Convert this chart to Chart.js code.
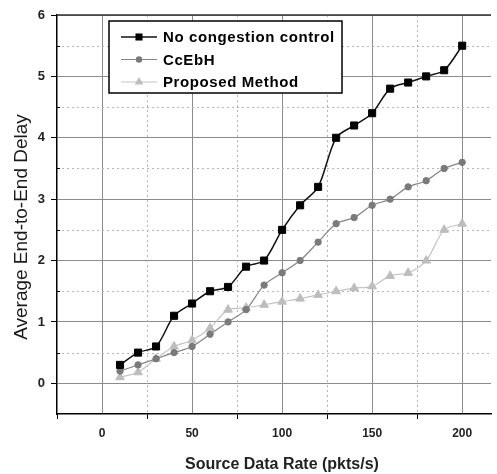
<!DOCTYPE html>
<html lang="en">
<head>
    <meta charset="UTF-8">
    <title>Average End-to-End Delay</title>
    <script src="https://cdn.jsdelivr.net/npm/chart.js"></script>
    <style>
        body { margin: 0; background: #fff; }
        canvas { display: block; }
    </style>
</head>
<body>

    <canvas id="chart" width="497" height="474"></canvas>

    <script>
        // Valores
        const rates = [10, 20, 30, 40, 50, 60, 70, 80, 90, 100, 110, 120, 130, 140, 150, 160, 170, 180, 190, 200];
        const noControl = [0.3, 0.5, 0.6, 1.1, 1.3, 1.5, 1.57, 1.9, 2.0, 2.5, 2.9, 3.2, 4.0, 4.2, 4.4, 4.8, 4.9, 5.0, 5.1, 5.5];
        const ccebh = [0.2, 0.3, 0.4, 0.5, 0.6, 0.8, 1.0, 1.2, 1.6, 1.8, 2.0, 2.3, 2.6, 2.7, 2.9, 3.0, 3.2, 3.3, 3.5, 3.6];
        const proposed = [0.1, 0.18, 0.4, 0.6, 0.7, 0.9, 1.2, 1.23, 1.28, 1.33, 1.38, 1.44, 1.5, 1.55, 1.58, 1.75, 1.8, 2.0, 2.5, 2.6];
        const seriesNames = ['No congestion control', 'CcEbH', 'Proposed Method'];
        const xTitle = 'Source Data Rate (pkts/s)';
        const yTitle = 'Average End-to-End Delay';
        const xTickValues = [-25, 0, 25, 50, 75, 100, 125, 150, 175, 200];
        const yTickValues = [-0.5, 0, 0.5, 1, 1.5, 2, 2.5, 3, 3.5, 4, 4.5, 5, 5.5, 6];

        const majorGrid = '#8c8c8c';
        const minorGrid = '#b4b4b4';
        const fontFamily = '"Liberation Sans", Arial, sans-serif';

        function pts(values) {
            return rates.map((r, i) => ({ x: r, y: values[i] }));
        }

        // grade secundaria pontilhada, borda superior, titulos e legenda
        const extras = {
            id: 'extras',
            beforeDatasetsDraw(chart) {
                const { ctx, chartArea: a, scales: { x, y } } = chart;
                ctx.save();
                ctx.strokeStyle = minorGrid;
                ctx.lineWidth = 1;
                ctx.setLineDash([2, 3]);
                xTickValues.forEach(v => {
                    if (v % 50 === 0 || v <= x.min) return;
                    const px = Math.round(x.getPixelForValue(v)) + 0.5;
                    ctx.beginPath();
                    ctx.moveTo(px, a.top);
                    ctx.lineTo(px, a.bottom);
                    ctx.stroke();
                });
                yTickValues.forEach(v => {
                    if (Number.isInteger(v) || v <= y.min) return;
                    const py = Math.round(y.getPixelForValue(v)) + 0.5;
                    ctx.beginPath();
                    ctx.moveTo(a.left, py);
                    ctx.lineTo(a.right, py);
                    ctx.stroke();
                });
                ctx.setLineDash([]);
                // pequenos ticks internos no eixo y
                ctx.strokeStyle = '#000';
                yTickValues.forEach(v => {
                    if (Number.isInteger(v) || v <= y.min) return;
                    const py = Math.round(y.getPixelForValue(v)) + 0.5;
                    ctx.beginPath();
                    ctx.moveTo(a.left, py);
                    ctx.lineTo(a.left + 3, py);
                    ctx.stroke();
                });
                ctx.restore();
            },
            afterDraw(chart) {
                const { ctx, chartArea: a } = chart;
                ctx.save();
                ctx.strokeStyle = '#333';
                ctx.lineWidth = 1.5;
                ctx.beginPath();
                ctx.moveTo(a.left, a.top);
                ctx.lineTo(a.right, a.top);
                ctx.stroke();

                // titulos dos eixos
                ctx.fillStyle = '#222';
                ctx.textAlign = 'center';
                ctx.textBaseline = 'middle';
                ctx.font = 'bold 16px ' + fontFamily;
                ctx.fillText(xTitle, a.left + 225, a.bottom + 51);
                ctx.save();
                ctx.translate(22, a.top + 212);
                ctx.rotate(-Math.PI / 2);
                ctx.font = '19px ' + fontFamily;
                ctx.fillStyle = '#1a1a1a';
                ctx.fillText(yTitle, 0, 0);
                ctx.restore();

                // legenda
                const bx = a.left + 52, by = a.top + 6, bw = 233, bh = 72;
                ctx.fillStyle = '#fff';
                ctx.fillRect(bx, by, bw, bh);
                ctx.strokeStyle = '#000';
                ctx.lineWidth = 1.5;
                ctx.strokeRect(bx, by, bw, bh);

                ctx.font = 'bold 15px ' + fontFamily;
                ctx.letterSpacing = '0.6px';
                ctx.textAlign = 'left';
                ctx.textBaseline = 'middle';
                chart.data.datasets.forEach((ds, i) => {
                    const ly = by + 16 + i * 22.5;
                    const x0 = bx + 12, x1 = bx + 48, mx = (x0 + x1) / 2;
                    ctx.strokeStyle = ds.borderColor;
                    ctx.lineWidth = ds.borderWidth;
                    ctx.beginPath();
                    ctx.moveTo(x0, ly);
                    ctx.lineTo(x1, ly);
                    ctx.stroke();
                    ctx.fillStyle = ds.pointBackgroundColor;
                    const r = ds.pointRadius;
                    ctx.beginPath();
                    if (ds.pointStyle === 'rect') {
                        const s = r * Math.SQRT1_2;
                        ctx.rect(mx - s, ly - s, 2 * s, 2 * s);
                    } else if (ds.pointStyle === 'triangle') {
                        ctx.moveTo(mx, ly - r);
                        ctx.lineTo(mx + r * 0.866, ly + r * 0.5);
                        ctx.lineTo(mx - r * 0.866, ly + r * 0.5);
                        ctx.closePath();
                    } else {
                        ctx.arc(mx, ly, r, 0, Math.PI * 2);
                    }
                    ctx.fill();
                    ctx.fillStyle = '#000';
                    ctx.fillText(ds.label, bx + 54, ly + 1);
                });
                ctx.restore();
            }
        };

        new Chart(document.getElementById('chart'), {
            type: 'line',
            data: {
                datasets: [
                    {
                        label: seriesNames[0],
                        data: pts(noControl),
                        borderColor: '#111',
                        borderWidth: 1.5,
                        pointStyle: 'rect',
                        pointRadius: 5,
                        pointBackgroundColor: '#000',
                        pointBorderColor: '#000',
                        pointBorderWidth: 1,
                        tension: 0.3
                    },
                    {
                        label: seriesNames[1],
                        data: pts(ccebh),
                        borderColor: '#858585',
                        borderWidth: 1.2,
                        pointStyle: 'circle',
                        pointRadius: 3.2,
                        pointBackgroundColor: '#7a7a7a',
                        pointBorderColor: '#7a7a7a',
                        pointBorderWidth: 1,
                        tension: 0.3
                    },
                    {
                        label: seriesNames[2],
                        data: pts(proposed),
                        borderColor: '#c4c4c4',
                        borderWidth: 1.2,
                        pointStyle: 'triangle',
                        pointRadius: 5,
                        pointBackgroundColor: '#bdbdbd',
                        pointBorderColor: '#bdbdbd',
                        pointBorderWidth: 1,
                        tension: 0.3
                    }
                ]
            },
            options: {
                responsive: false,
                animation: false,
                layout: { padding: { top: 15, left: 0, right: 0, bottom: 0 } },
                plugins: {
                    legend: { display: false },
                    tooltip: { enabled: false }
                },
                scales: {
                    x: {
                        type: 'linear',
                        min: -25,
                        max: 216,
                        afterBuildTicks: s => { s.ticks = xTickValues.map(v => ({ value: v })); },
                        afterFit: s => { s.height = 60; },
                        ticks: {
                            autoSkip: false,
                            maxRotation: 0,
                            padding: 7,
                            color: '#222',
                            font: { family: fontFamily, size: 12, weight: 'bold' },
                            callback: v => (v % 50 === 0 ? v : '')
                        },
                        grid: {
                            color: c => (c.tick && c.tick.value % 50 === 0 && c.tick.value > -25 ? majorGrid : 'rgba(0,0,0,0)'),
                            tickColor: c => (c.tick && c.tick.value % 50 !== 0 ? '#000' : 'rgba(0,0,0,0)'),
                            tickLength: 5,
                            lineWidth: 1
                        },
                        border: { color: '#000', width: 1.5 }
                    },
                    y: {
                        min: -0.5,
                        max: 6,
                        afterBuildTicks: s => { s.ticks = yTickValues.map(v => ({ value: v })); },
                        afterFit: s => { s.width = 57; },
                        ticks: {
                            autoSkip: false,
                            padding: 6,
                            color: '#222',
                            font: { family: fontFamily, size: 13, weight: 'bold' },
                            callback: v => (Number.isInteger(v) && v >= 0 ? v : '')
                        },
                        grid: {
                            color: c => (c.tick && Number.isInteger(c.tick.value) ? majorGrid : 'rgba(0,0,0,0)'),
                            tickColor: c => (c.tick && Number.isInteger(c.tick.value) ? '#000' : 'rgba(0,0,0,0)'),
                            tickLength: 6,
                            lineWidth: 1
                        },
                        border: { color: '#000', width: 1.5 }
                    }
                }
            },
            plugins: [extras]
        });
    </script>

</body>
</html>
